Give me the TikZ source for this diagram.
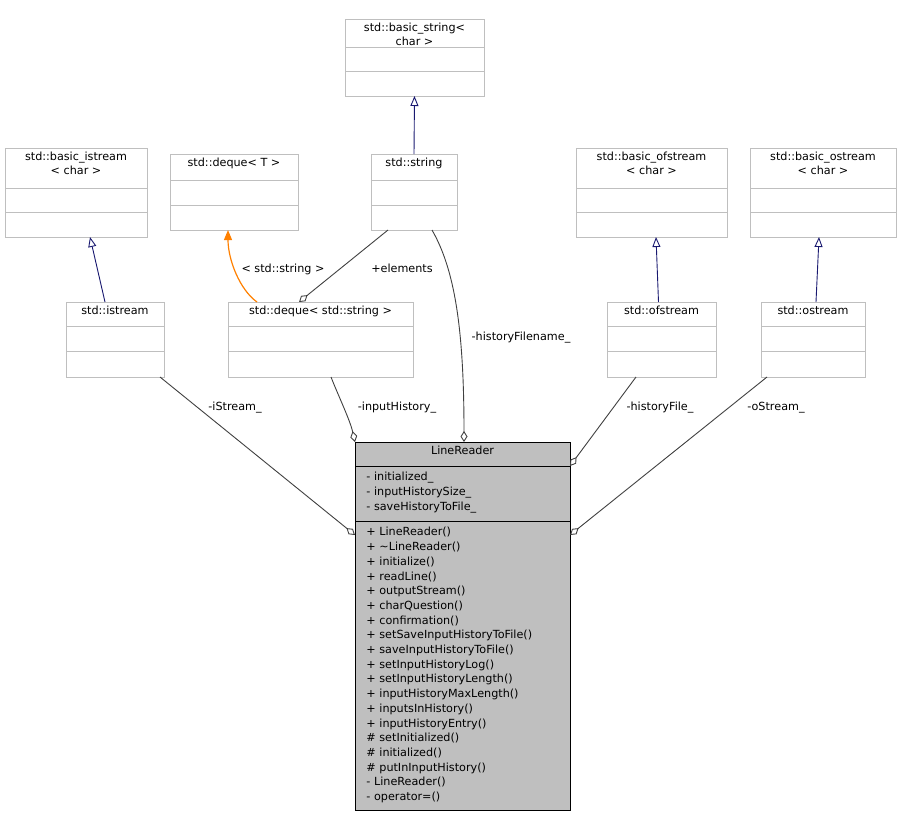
\documentclass[tikz,border=0pt]{standalone}
\usepackage{fontspec}
\setmainfont{DejaVu Sans}
\usetikzlibrary{arrows.meta}
\definecolor{bgray}{HTML}{BFBFBF}
\definecolor{egray}{HTML}{404040}
\definecolor{navy}{HTML}{191970}
\begin{document}
\begin{tikzpicture}[x=1pt,y=-1pt,font=\fontsize{11.2}{13.5}\selectfont,line width=0.9pt,
  box/.style={draw=bgray,fill=white,inner sep=0,outer sep=0,anchor=north west},
  inh/.style={draw=navy,-{Triangle[open,length=10,width=8]}},
  agg/.style={draw=egray,{Diamond[open,length=11,width=7]}-},
  lbl/.style={inner sep=1pt},
  lst/.style={anchor=north west,align=left,inner sep=0,font=\fontsize{11.2}{14.7}\selectfont}]
\useasboundingbox (0,0) rectangle (902,817);
\newcommand\ubox[8]{% name x1 y1 x2 y2 title sep1 sep2
  \node[box,minimum width=#4-#2,minimum height=#5-#3] (#1) at (#2,#3) {};
  \draw[bgray] (#2,#7) -- (#4,#7) (#2,#8) -- (#4,#8);
  \node[align=center,anchor=north,inner sep=0] at ({(#2+#4)/2},#3+4) {#6};}
\ubox{bstr}{345}{19}{484}{96}{std::basic\_string<\\char >}{47}{71}
\ubox{bist}{5}{148}{147}{237}{std::basic\_istream\\< char >}{188}{212}
\ubox{dqT}{170}{154}{298}{230}{std::deque< T >}{180}{205}
\ubox{str}{371}{154}{457}{230}{std::string}{180}{205}
\ubox{bofs}{576}{148}{727}{237}{std::basic\_ofstream\\< char >}{188}{212}
\ubox{bost}{750}{148}{896}{237}{std::basic\_ostream\\< char >}{188}{212}
\ubox{ist}{66}{302}{164}{377}{std::istream}{326}{351}
\ubox{dqs}{228}{302}{413}{377}{std::deque< std::string >}{326}{351}
\ubox{ofs}{607}{302}{716}{377}{std::ofstream}{326}{351}
\ubox{ost}{761}{302}{865}{377}{std::ostream}{326}{351}
% LineReader
\node[draw=black,fill=bgray,inner sep=0,outer sep=0,anchor=north west,minimum width=215,minimum height=368] (lr) at (355,442) {};
\draw (355,466) -- (570,466) (355,521) -- (570,521);
\node[anchor=north,inner sep=0] at (462.5,446) {LineReader};
\node[lst] at (366,472) {- initialized\_\\- inputHistorySize\_\\- saveHistoryToFile\_};
\node[lst] at (366,527) {+ LineReader()\\+ \textasciitilde LineReader()\\+ initialize()\\+ readLine()\\+ outputStream()\\+ charQuestion()\\+ confirmation()\\+ setSaveInputHistoryToFile()\\+ saveInputHistoryToFile()\\+ setInputHistoryLog()\\+ setInputHistoryLength()\\+ inputHistoryMaxLength()\\+ inputsInHistory()\\+ inputHistoryEntry()\\\# setInitialized()\\\# initialized()\\\# putInInputHistory()\\- LineReader()\\- operator=()};
% inheritance
\draw[inh] (str.north) -- (bstr.south);
\draw[inh] ([xshift=-10]ist.north) -- ([xshift=14]bist.south);
\draw[inh] ([xshift=-3]ofs.north) -- ([xshift=4.5]bofs.south);
\draw[inh] ([xshift=3]ost.north) -- ([xshift=-4]bost.south);
\draw[draw=orange,line width=1.2pt,-{Triangle[length=10,width=8]}] ([xshift=-63.5]dqs.north) .. controls (240,290) and (228,260) .. ([xshift=-6]dqT.south);
\node[lbl] at (283,269) {< std::string >};
% aggregation
\draw[agg] ([xshift=-21.5]dqs.north) -- ([xshift=-26]str.south);
\node[lbl] at (402,268) {+elements};
\draw[agg] ([yshift=-93]lr.north west) -- ([xshift=-4]ist.south east);
\node[lbl] at (235,408) {-iStream\_};
\draw[agg] (lr.north west) .. controls (350,420) and (338,395) .. ([xshift=10.5]dqs.south);
\node[lbl] at (397,408) {-inputHistory\_};
\draw[agg] ([xshift=109]lr.north west) .. controls (464,330) and (455,270) .. ([xshift=-25]str.south east);
\node[lbl] at (521,338) {-historyFilename\_};
\draw[agg] ([yshift=-24]lr.north east) -- ([xshift=-25.5]ofs.south);
\node[lbl] at (660,408) {-historyFile\_};
\draw[agg] ([yshift=-93]lr.north east) -- ([xshift=6]ost.south west);
\node[lbl] at (776,408) {-oStream\_};
\end{tikzpicture}
\end{document}
